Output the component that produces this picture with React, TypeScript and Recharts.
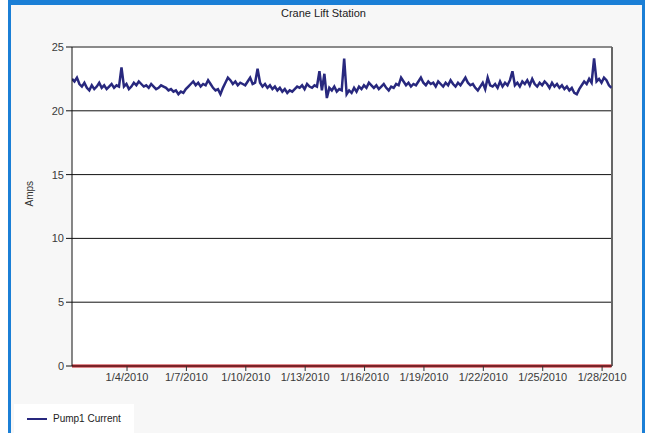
import {
  LineChart,
  Line,
  XAxis,
  YAxis,
  CartesianGrid,
  ReferenceLine,
} from 'recharts';

// time in days since 1/1/2010 00:00, one reading every 3 hours
const startDay = 0.22;
const stepDay = 0.125;

const pump1Current: number[] = [
  22.5, 22.3, 22.6, 22.1, 21.9, 22.2, 21.8, 21.6, 22.0, 21.7,
  21.9, 22.2, 21.8, 22.0, 21.7, 21.9, 22.1, 21.8, 22.0, 21.9,
  23.4, 21.9, 22.1, 21.7, 21.9, 22.2, 22.0, 22.3, 22.1, 21.9,
  22.0, 21.8, 22.1, 21.9, 21.7, 21.8, 22.0, 21.9, 21.8, 21.6,
  21.7, 21.5, 21.6, 21.3, 21.5, 21.4, 21.7, 21.9, 22.1, 22.3,
  22.0, 22.2, 21.9, 22.1, 22.0, 22.4, 22.1, 21.8, 21.6, 21.7,
  21.3, 21.8, 22.2, 22.6, 22.4, 22.1, 22.3, 22.0, 22.2, 22.1,
  22.0, 22.3, 22.6, 22.1, 22.2, 23.3, 22.2, 21.9, 22.1, 21.8,
  22.0, 21.7, 21.9, 21.6, 21.8, 21.5, 21.7, 21.4, 21.6, 21.5,
  21.7, 21.9, 21.8, 22.0, 21.7, 22.1, 21.9, 21.8, 22.0, 21.9,
  23.1, 21.6, 22.9, 21.0, 21.8, 21.6, 21.9, 21.5, 21.7, 21.6,
  24.1, 21.3, 21.6, 21.4, 21.8, 21.5, 21.9, 21.7, 22.0, 21.8,
  22.2, 22.0, 21.8, 22.0, 21.7, 21.9, 22.1, 21.8, 21.6, 21.9,
  21.8, 22.1, 22.0, 22.6, 22.3, 22.0, 22.2, 21.9, 22.1, 22.0,
  22.3, 22.6, 22.2, 22.0, 22.3, 22.1, 22.2, 21.9, 22.3, 22.1,
  21.9, 22.2, 22.0, 22.4, 22.1, 21.9, 22.2, 22.0, 22.3, 22.6,
  22.2, 22.0, 22.1, 21.8, 21.6, 21.9, 22.2, 21.7, 22.6, 22.0,
  21.9, 22.1, 21.8, 22.3, 21.9, 22.2, 22.0, 22.4, 23.1, 22.0,
  22.2, 21.9, 22.3, 22.1, 22.4, 22.0, 22.5, 22.1, 21.9, 22.2,
  22.0, 22.3, 22.1, 21.8, 22.2, 21.9, 22.1, 21.8, 22.0, 21.7,
  21.9, 21.6, 21.8, 21.4, 21.3, 21.7, 22.0, 22.3, 22.1, 22.5,
  22.2, 24.1, 22.3, 22.5, 22.2, 22.6, 22.4, 22.0, 21.8,
];

// second channel sits at zero the whole period
const pump2Current: number[] = pump1Current.map(() => 0);

const yTicks = [0, 5, 10, 15, 20, 25];
const xTicks = [3, 6, 9, 12, 15, 18, 21, 24, 27];

const chartData = pump1Current.map((v, i) => ({
  t: startDay + i * stepDay,
  pump1: v,
  pump2: pump2Current[i],
}));

const font = '"Liberation Sans", Arial, sans-serif';

function formatDay(d: number): string {
  return `1/${d + 1}/2010`;
}

export default function App() {
  return (
    <div
      style={{
        position: 'absolute',
        left: 0,
        top: 0,
        width: 647,
        height: 433,
        background: '#fff',
        overflow: 'hidden',
        fontFamily: font,
      }}
    >
      <div
        style={{
          position: 'absolute',
          left: 8,
          top: 0,
          width: 631,
          height: 440,
          borderLeft: '3px solid #1b7fd6',
          borderRight: '3px solid #1b7fd6',
          borderTop: '5px solid #1b7fd6',
          background: '#f7f7f7',
        }}
      />
      <div
        style={{
          position: 'absolute',
          left: 0,
          top: 7,
          width: 647,
          textAlign: 'center',
          fontSize: 11,
          color: '#222',
        }}
      >
        Crane Lift Station
      </div>
      <div style={{ position: 'absolute', left: 0, top: 0 }}>
        <LineChart
          width={647}
          height={433}
          data={chartData}
          margin={{ top: 47, right: 35, bottom: 47, left: 42 }}
        >
          <CartesianGrid
            vertical={false}
            stroke="#111"
            strokeWidth={1}
            fill="#fff"
            fillOpacity={1}
          />
          <XAxis
            type="number"
            dataKey="t"
            domain={[startDay, 27.5]}
            allowDataOverflow
            ticks={xTicks}
            tickFormatter={formatDay}
            tick={{ fontSize: 11, fill: '#3a3a3a', fontFamily: font }}
            tickSize={5}
            stroke="#333"
            height={20}
          />
          <YAxis
            type="number"
            domain={[0, 25]}
            ticks={yTicks}
            tick={{ fontSize: 11, fill: '#3a3a3a', fontFamily: font }}
            tickSize={6}
            stroke="#111"
            width={30}
            label={{
              value: 'Amps',
              angle: -90,
              position: 'insideLeft',
              offset: -13,
              style: { fontSize: 10, fill: '#333', fontFamily: font },
            }}
          />
          <ReferenceLine y={25} stroke="#8a8a8a" strokeWidth={2} />
          <ReferenceLine x={27.5} stroke="#666" strokeWidth={2} />
          <Line
            type="linear"
            dataKey="pump2"
            stroke="#c4151c"
            strokeWidth={3}
            dot={false}
            isAnimationActive={false}
          />
          <Line
            type="linear"
            dataKey="pump1"
            stroke="#28287e"
            strokeWidth={2.5}
            dot={false}
            isAnimationActive={false}
          />
        </LineChart>
      </div>
      <div
        style={{
          position: 'absolute',
          left: 14,
          top: 404,
          width: 120,
          height: 29,
          background: '#fff',
          display: 'flex',
          alignItems: 'center',
          fontSize: 10,
          color: '#222',
        }}
      >
        <span
          style={{
            display: 'inline-block',
            width: 20,
            height: 2,
            background: '#28287e',
            marginLeft: 13,
            marginRight: 6,
          }}
        />
        Pump1 Current
      </div>
    </div>
  );
}
